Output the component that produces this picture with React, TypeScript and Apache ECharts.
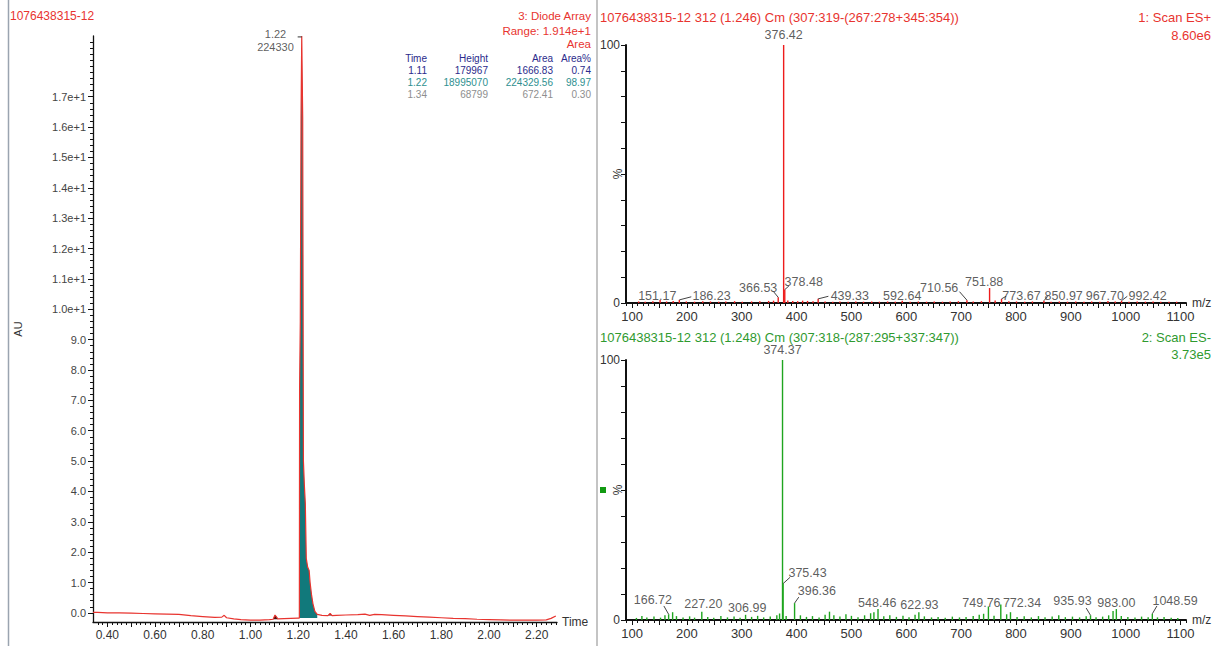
import React, { useEffect, useRef } from 'react';
import * as echarts from 'echarts';

const FONT = '"Liberation Sans", Arial, sans-serif';

// ---------- Chromatogram (Diode Array) ----------
const chromTime = [0.34, 0.36, 0.40, 0.45, 0.50, 0.55, 0.60, 0.65, 0.70, 0.75, 0.80, 0.85, 0.88, 0.89, 0.90, 0.93, 0.96, 1.00, 1.04, 1.08, 1.095, 1.103, 1.108, 1.115, 1.14, 1.17, 1.20, 1.205, 1.206, 1.209, 1.212, 1.215, 1.219, 1.222, 1.226, 1.230, 1.234, 1.240, 1.246, 1.250, 1.256, 1.262, 1.270, 1.280, 1.30, 1.325, 1.334, 1.342, 1.36, 1.40, 1.45, 1.48, 1.50, 1.52, 1.55, 1.60, 1.65, 1.70, 1.75, 1.80, 1.85, 1.90, 1.95, 2.00, 2.05, 2.10, 2.15, 2.20, 2.24, 2.26, 2.28];
const chromAU = [0.02, 0.02, 0.00, 0.00, -0.01, -0.02, -0.03, -0.04, -0.05, -0.09, -0.12, -0.15, -0.14, -0.08, -0.16, -0.20, -0.22, -0.24, -0.24, -0.22, -0.21, -0.07, -0.12, -0.20, -0.19, -0.18, -0.17, -0.17, 7.4, 9.6, 16.3, 19.0, 16.3, 5.0, 4.2, 3.6, 1.8, 1.5, 1.4, 1.0, 0.6, 0.3, 0.05, -0.05, -0.08, -0.09, -0.02, -0.09, -0.08, -0.07, -0.06, -0.04, -0.08, -0.05, -0.06, -0.08, -0.10, -0.12, -0.14, -0.16, -0.18, -0.19, -0.21, -0.22, -0.23, -0.24, -0.24, -0.24, -0.23, -0.18, -0.10];

const chromXLabels = [0.4, 0.6, 0.8, 1.0, 1.2, 1.4, 1.6, 1.8, 2.0, 2.2];
const chromYLabels = [0, 1, 2, 3, 4, 5, 6, 7, 8, 9, 10, 11, 12, 13, 14, 15, 16, 17];

const peakTimes = ['1.11', '1.22', '1.34'];
const peakHeights = ['179967', '18995070', '68799'];
const peakAreas = ['1666.83', '224329.56', '672.41'];
const peakAreaPct = ['0.74', '98.97', '0.30'];
const peakRowColors = ['#2b2b8c', '#2e9090', '#8e8e8e'];

// ---------- Spectrum 1: Scan ES+ ----------
const esPlusMz = [112, 124, 138, 151.17, 163, 175, 186.23, 199, 214, 229, 243, 258, 271, 287, 301, 318, 333, 349, 358, 366.53, 376.42, 378.48, 384, 393, 402, 411, 420, 430, 439.33, 452, 466, 479, 494, 508, 522, 537, 551, 566, 580, 592.64, 607, 622, 637, 651, 666, 680, 695, 710.56, 722, 737, 751.88, 762, 773.67, 787, 801, 816, 830, 850.97, 864, 879, 894, 909, 924, 938, 953, 967.70, 981, 992.42, 1006, 1021, 1036, 1050, 1064, 1079, 1093];
const esPlusInt = [0.6, 0.5, 0.7, 1.2, 0.6, 0.8, 1.2, 0.6, 0.5, 0.7, 0.6, 0.5, 0.6, 0.7, 0.5, 0.6, 0.7, 0.8, 0.9, 2.2, 100, 5.2, 1.0, 0.8, 0.7, 0.9, 0.8, 0.7, 1.6, 0.6, 0.5, 0.6, 0.5, 0.6, 0.5, 0.6, 0.5, 0.6, 0.5, 0.9, 0.5, 0.6, 0.5, 0.6, 0.5, 0.6, 0.7, 1.1, 0.6, 0.7, 5.8, 1.0, 1.6, 0.7, 0.6, 0.5, 0.6, 0.9, 0.5, 0.6, 0.5, 0.6, 0.5, 0.6, 0.5, 0.8, 0.6, 0.9, 0.5, 0.6, 0.5, 0.6, 0.5, 0.5, 0.5];
// [peak m/z, peak %, label text, label x (m/z), label y (%), leader end x, leader end y]
const esPlusLabels: [number, number, string, number, number, number | null, number | null][] = [
  [151.17, 1.2, '151.17', 146, 2.8, null, null],
  [186.23, 1.2, '186.23', 245, 2.8, 208, 2.4],
  [366.53, 2.2, '366.53', 330, 5.8, 358, 4.4],
  [378.48, 5.2, '378.48', 413, 8.0, 386, 6.6],
  [439.33, 1.6, '439.33', 497, 2.8, 458, 2.6],
  [592.64, 0.9, '592.64', 592.6, 2.8, null, null],
  [710.56, 1.1, '710.56', 660, 5.8, 697, 4.4],
  [751.88, 5.8, '751.88', 742, 8.0, null, null],
  [773.67, 1.6, '773.67', 810, 2.8, 782, 2.6],
  [850.97, 0.9, '850.97', 887, 2.8, 858, 2.6],
  [967.70, 0.8, '967.70', 962, 2.8, null, null],
  [992.42, 0.9, '992.42', 1040, 2.8, 1003, 2.6],
];

// ---------- Spectrum 2: Scan ES- ----------
const esMinusMz = [108, 118, 127, 140, 152, 160, 166.72, 174, 181, 193, 205, 214, 227.20, 238, 249, 262, 274, 286, 297, 306.99, 318, 329, 340, 352, 364, 369, 374.37, 375.43, 381, 396.36, 407, 418, 429, 441, 452, 460, 468, 479, 490, 500, 512, 524, 535, 541, 548.46, 559, 570, 582, 594, 605, 616, 622.93, 633, 646, 658, 671, 684, 697, 709, 722, 733, 741, 749.76, 760, 772.34, 783, 790, 802, 815, 828, 841, 853, 866, 878, 890, 903, 916, 928, 935.93, 946, 958, 969, 977, 983.00, 992, 1004, 1017, 1029, 1041, 1048.59, 1058, 1070, 1083, 1095];
const esMinusInt = [0.8, 1.5, 1.0, 1.3, 0.9, 1.8, 2.2, 3.0, 1.5, 1.0, 1.4, 0.9, 3.2, 1.2, 0.9, 1.5, 1.0, 1.3, 0.9, 2.0, 1.2, 1.6, 1.0, 1.3, 1.8, 2.5, 100, 14, 1.5, 6.5, 1.8, 1.2, 1.5, 1.0, 2.0, 3.2, 1.8, 1.3, 2.2, 1.6, 1.1, 1.8, 2.6, 3.0, 4.2, 1.4, 1.8, 1.2, 1.6, 1.1, 2.0, 3.0, 1.4, 1.0, 1.2, 0.9, 1.3, 1.0, 1.2, 1.5, 2.0, 2.4, 5.2, 1.6, 6.0, 2.2, 3.0, 1.2, 1.4, 1.0, 1.5, 1.1, 1.3, 1.8, 1.1, 1.3, 1.0, 1.4, 1.8, 1.1, 1.3, 1.8, 3.5, 4.2, 1.5, 1.2, 1.0, 1.3, 1.1, 2.4, 1.0, 1.2, 0.9, 0.8];
const esMinusLabels: [number, number, string, number, number, number | null, number | null][] = [
  [166.72, 2.2, '166.72', 138, 7.6, 158, 5.4],
  [227.20, 3.2, '227.20', 230, 6.0, null, null],
  [306.99, 2.0, '306.99', 310, 4.8, null, null],
  [375.43, 14, '375.43', 420, 18.2, 388, 16.4],
  [396.36, 6.5, '396.36', 437, 11.2, 404, 8.8],
  [548.46, 4.2, '548.46', 547, 6.6, null, null],
  [622.93, 3.0, '622.93', 624, 5.8, null, null],
  [749.76, 5.2, '749.76', 737, 6.6, null, null],
  [772.34, 6.0, '772.34', 811, 6.6, null, null],
  [935.93, 1.8, '935.93', 903, 7.4, 928, 4.6],
  [983.00, 4.2, '983.00', 983, 6.6, null, null],
  [1048.59, 2.4, '1048.59', 1090, 7.4, 1057, 5.4],
];

const specXLabels = [100, 200, 300, 400, 500, 600, 700, 800, 900, 1000, 1100];

function seq(a: number, b: number, step: number) {
  const out: number[] = [];
  const n = Math.round((b - a) / step);
  for (let i = 0; i <= n; i++) out.push(+(a + i * step).toFixed(4));
  return out;
}

const RED = '#e8342f';
const GREEN = '#2f9a2f';
const AXIS = '#111';
const LABEL = '#333';

function stickSeries(mz: number[], it: number[], axis: number, color: string) {
  return {
    type: 'custom',
    xAxisIndex: axis,
    yAxisIndex: axis,
    encode: { x: 0, y: 1 },
    data: mz.map((m, i) => [m, it[i]]),
    renderItem: (params: any, api: any) => {
      const a = api.coord([api.value(0), 0]);
      const b = api.coord([api.value(0), api.value(1)]);
      return {
        type: 'line',
        shape: { x1: a[0], y1: a[1], x2: b[0], y2: b[1] },
        style: { stroke: color, lineWidth: 1.4 },
      };
    },
    z: 3,
  };
}

function leaderSeries(labels: any[], axis: number) {
  return {
    type: 'custom',
    xAxisIndex: axis,
    yAxisIndex: axis,
    encode: { x: [0, 2], y: [1, 3] },
    data: labels.filter((l) => l[5] !== null).map((l) => [l[0], l[1], l[5], l[6]]),
    renderItem: (params: any, api: any) => {
      const a = api.coord([api.value(0), api.value(1)]);
      const b = api.coord([api.value(2), api.value(3)]);
      return {
        type: 'line',
        shape: { x1: a[0], y1: a[1], x2: b[0], y2: b[1] },
        style: { stroke: '#444', lineWidth: 1 },
      };
    },
    z: 4,
  };
}

function labelSeries(labels: any[], axis: number) {
  return {
    type: 'scatter',
    xAxisIndex: axis,
    yAxisIndex: axis,
    symbolSize: 1,
    itemStyle: { color: 'rgba(0,0,0,0)' },
    data: labels.map((l) => ({ value: [l[3], l[4]], name: l[2] })),
    label: {
      show: true,
      position: 'inside',
      formatter: '{b}',
      color: LABEL,
      fontSize: 12.5,
      fontFamily: FONT,
    },
    z: 5,
  };
}

function specXAxis(grid: number) {
  return [
    {
      type: 'value', gridIndex: grid, min: 89, max: 1110, position: 'bottom',
      axisLine: { show: true, onZero: false, lineStyle: { color: AXIS, width: 2 } },
      axisTick: { show: true, customValues: seq(100, 1100, 50), length: 5, lineStyle: { color: AXIS, width: 1 } },
      axisLabel: { show: true, customValues: specXLabels, formatter: (v: number) => String(v), margin: 7, color: LABEL, fontSize: 13, fontFamily: FONT },
      splitLine: { show: false },
      name: 'm/z', nameLocation: 'end', nameGap: 6,
      nameTextStyle: { color: LABEL, fontSize: 12, fontFamily: FONT },
    },
    {
      type: 'value', gridIndex: grid, min: 89, max: 1110, position: 'bottom',
      axisLine: { show: false, onZero: false },
      axisTick: { show: true, customValues: seq(90, 1110, 10), length: 3, lineStyle: { color: AXIS, width: 1 } },
      axisLabel: { show: false },
      splitLine: { show: false },
    },
  ];
}

function specYAxis(grid: number) {
  return {
    type: 'value', gridIndex: grid, min: 0, max: 100, position: 'left',
    axisLine: { show: true, onZero: false, lineStyle: { color: AXIS, width: 2 } },
    axisTick: { show: true, customValues: seq(0, 100, 10), length: 5, lineStyle: { color: AXIS } },
    axisLabel: { show: true, customValues: [0, 100], margin: 6, color: LABEL, fontSize: 12, fontFamily: FONT },
    splitLine: { show: false },
    name: '%', nameLocation: 'middle', nameGap: 2, nameRotate: 90, nameMoveOverlap: false,
    nameTextStyle: { color: LABEL, fontSize: 12, fontFamily: FONT },
  };
}

function txt(text: string, x: number, y: number, color: string, size: number, align = 'left') {
  return {
    type: 'text',
    x, y,
    silent: true,
    style: {
      text, fill: color, font: `${size}px ${FONT}`,
      align, textAlign: align, verticalAlign: 'middle', textVerticalAlign: 'middle',
    },
    z: 10,
  };
}

export default function App() {
  const ref = useRef<HTMLDivElement>(null);
  useEffect(() => {
    if (!ref.current) return;
    const chart = echarts.init(ref.current, null, { renderer: 'svg' });

    const chromData = chromTime.map((t, i) => [t, chromAU[i]]);
    const mainFill = chromData.filter((d) => d[0] >= 1.205 && d[0] <= 1.28);
    const fill111 = chromData.filter((d) => d[0] >= 1.095 && d[0] <= 1.115);
    const fill134 = chromData.filter((d) => d[0] >= 1.325 && d[0] <= 1.342);

    const tableCols = [427, 488, 553, 591];
    const graphic: any[] = [
      { type: 'line', shape: { x1: 8.5, y1: 0, x2: 8.5, y2: 646 }, style: { stroke: '#9aa4b0', lineWidth: 1.5 }, silent: true },
      { type: 'line', shape: { x1: 597, y1: 0, x2: 597, y2: 646 }, style: { stroke: '#c4c4c4', lineWidth: 2 }, silent: true },
      { type: 'rect', shape: { x: 600, y: 487, width: 6, height: 6 }, style: { fill: '#129a12' }, silent: true },
      txt('1076438315-12', 10, 16, RED, 12),
      txt('3: Diode Array', 591, 16, RED, 11.5, 'right'),
      txt('Range: 1.914e+1', 591, 31, RED, 11.5, 'right'),
      txt('Area', 591, 44, RED, 11.5, 'right'),
      txt('Time', tableCols[0], 58, '#2b2b8c', 10, 'right'),
      txt('Height', tableCols[1], 58, '#2b2b8c', 10, 'right'),
      txt('Area', tableCols[2], 58, '#2b2b8c', 10, 'right'),
      txt('Area%', tableCols[3], 58, '#2b2b8c', 10, 'right'),
      txt('1076438315-12 312 (1.246) Cm (307:319-(267:278+345:354))', 600, 17, RED, 13),
      txt('1: Scan ES+', 1211, 17, RED, 13, 'right'),
      txt('8.60e6', 1211, 35, RED, 13, 'right'),
      txt('1076438315-12 312 (1.248) Cm (307:318-(287:295+337:347))', 600, 337, GREEN, 13),
      txt('2: Scan ES-', 1211, 337, GREEN, 13, 'right'),
      txt('3.73e5', 1211, 354, GREEN, 13, 'right'),
    ];
    peakTimes.forEach((t, i) => {
      const y = 70 + i * 12;
      const c = peakRowColors[i];
      graphic.push(txt(t, tableCols[0], y, c, 10, 'right'));
      graphic.push(txt(peakHeights[i], tableCols[1], y, c, 10, 'right'));
      graphic.push(txt(peakAreas[i], tableCols[2], y, c, 10, 'right'));
      graphic.push(txt(peakAreaPct[i], tableCols[3], y, c, 10, 'right'));
    });

    const option: any = {
      animation: false,
      backgroundColor: '#ffffff',
      textStyle: { fontFamily: FONT },
      grid: [
        { left: 93, top: 36, width: 464, height: 586 },
        { left: 626, top: 45, width: 560, height: 258 },
        { left: 626, top: 360, width: 560, height: 260 },
      ],
      xAxis: [
        {
          type: 'value', gridIndex: 0, min: 0.34, max: 2.285, position: 'bottom',
          axisLine: { show: true, onZero: false, lineStyle: { color: AXIS, width: 1.3 } },
          axisTick: { show: true, customValues: seq(0.4, 2.2, 0.1), length: 5, lineStyle: { color: AXIS } },
          axisLabel: { show: true, customValues: chromXLabels, formatter: (v: number) => v.toFixed(2), margin: 7, color: LABEL, fontSize: 12, fontFamily: FONT },
          splitLine: { show: false },
          name: 'Time', nameLocation: 'end', nameGap: 5,
          nameTextStyle: { color: LABEL, fontSize: 12, fontFamily: FONT },
        },
        {
          type: 'value', gridIndex: 0, min: 0.34, max: 2.285, position: 'bottom',
          axisLine: { show: false, onZero: false },
          axisTick: { show: true, customValues: seq(0.36, 2.28, 0.02), length: 3, lineStyle: { color: AXIS } },
          axisLabel: { show: false },
          splitLine: { show: false },
        },
        ...specXAxis(1),
        ...specXAxis(2),
      ],
      yAxis: [
        {
          type: 'value', gridIndex: 0, min: -0.3, max: 19, position: 'left',
          axisLine: { show: true, onZero: false, lineStyle: { color: AXIS, width: 1.3 } },
          axisTick: { show: true, customValues: chromYLabels, length: 5, lineStyle: { color: AXIS } },
          axisLabel: {
            show: true, customValues: chromYLabels, margin: 7, color: '#444', fontSize: 11, fontFamily: FONT,
            formatter: (v: number) => (v >= 10 ? (v / 10).toFixed(1) + 'e+1' : v.toFixed(1)),
          },
          splitLine: { show: false },
          name: 'AU', nameLocation: 'middle', nameGap: 70, nameRotate: 90,
          nameTextStyle: { color: LABEL, fontSize: 11, fontFamily: FONT },
        },
        {
          type: 'value', gridIndex: 0, min: -0.3, max: 19, position: 'left',
          axisLine: { show: false, onZero: false },
          axisTick: { show: true, customValues: seq(0, 18.8, 0.2), length: 3, lineStyle: { color: AXIS } },
          axisLabel: { show: false },
          splitLine: { show: false },
        },
        specYAxis(1),
        { ...specYAxis(1), show: false },
        specYAxis(2),
        { ...specYAxis(2), show: false },
      ],
      series: [
        {
          type: 'line', xAxisIndex: 0, yAxisIndex: 0, data: mainFill, showSymbol: false,
          lineStyle: { width: 0 }, areaStyle: { color: '#11797b', opacity: 1, origin: -0.17 }, z: 2,
        },
        {
          type: 'line', xAxisIndex: 0, yAxisIndex: 0, data: fill111, showSymbol: false,
          lineStyle: { width: 0 }, areaStyle: { color: '#4a1010', opacity: 1, origin: -0.21 }, z: 2,
        },
        {
          type: 'line', xAxisIndex: 0, yAxisIndex: 0, data: fill134, showSymbol: false,
          lineStyle: { width: 0 }, areaStyle: { color: '#4a1010', opacity: 1, origin: -0.09 }, z: 2,
        },
        {
          type: 'line', xAxisIndex: 0, yAxisIndex: 0, data: chromData, showSymbol: false,
          lineStyle: { color: RED, width: 1.2 }, z: 3,
        },
        {
          type: 'line', xAxisIndex: 0, yAxisIndex: 0, data: [[1.198, 18.97], [1.215, 18.97]], showSymbol: false,
          lineStyle: { color: '#333', width: 1 }, z: 3,
        },
        {
          type: 'scatter', xAxisIndex: 0, yAxisIndex: 0, symbolSize: 1, itemStyle: { color: 'rgba(0,0,0,0)' },
          data: [{ value: [1.105, 18.85], name: peakTimes[1] + '\n224330' }],
          label: { show: true, position: 'inside', formatter: '{b}', color: LABEL, fontSize: 11, lineHeight: 13, fontFamily: FONT },
        },
        stickSeries(esPlusMz, esPlusInt, 2, '#ee1c1c'),
        leaderSeries(esPlusLabels, 2),
        labelSeries(esPlusLabels, 2),
        {
          type: 'scatter', xAxisIndex: 2, yAxisIndex: 2, symbolSize: 1, itemStyle: { color: 'rgba(0,0,0,0)' },
          data: [{ value: [376.42, 100], name: '376.42' }],
          label: { show: true, position: 'top', distance: 3, formatter: '{b}', color: LABEL, fontSize: 12.5, fontFamily: FONT },
        },
        stickSeries(esMinusMz, esMinusInt, 4, '#1fa51f'),
        leaderSeries(esMinusLabels, 4),
        labelSeries(esMinusLabels, 4),
        {
          type: 'scatter', xAxisIndex: 4, yAxisIndex: 4, symbolSize: 1, itemStyle: { color: 'rgba(0,0,0,0)' },
          data: [{ value: [374.37, 100], name: '374.37' }],
          label: { show: true, position: 'top', distance: 3, formatter: '{b}', color: LABEL, fontSize: 12.5, fontFamily: FONT },
        },
      ],
      graphic,
    };
    chart.setOption(option);
    return () => chart.dispose();
  }, []);

  return (
    <div
      ref={ref}
      style={{ position: 'fixed', left: 0, top: 0, width: 1219, height: 646, background: '#fff' }}
    />
  );
}
